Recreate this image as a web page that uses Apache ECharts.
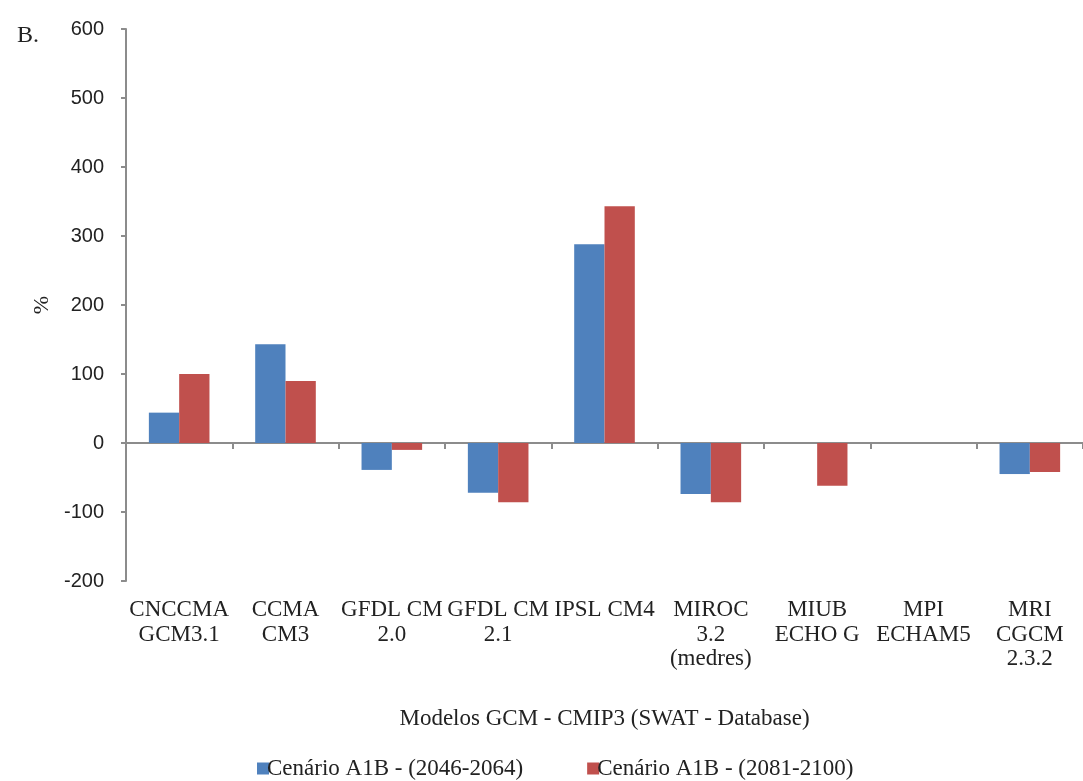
<!DOCTYPE html>
<html>
<head>
<meta charset="utf-8">
<script src="https://cdn.jsdelivr.net/npm/echarts@6/dist/echarts.min.js"></script>
<style>
  html, body { margin: 0; padding: 0; background: #fff; }
  #chart { width: 1083px; height: 781px; }
</style>
</head>
<body>
<div id="chart"></div>
<script>
// GCM models (CMIP3) and the change (%) for the two A1B periods
const models = [
  'CNCCMA\nGCM3.1', 'CCMA\nCM3', 'GFDL CM\n2.0', 'GFDL CM\n2.1', 'IPSL CM4',
  'MIROC\n3.2\n(medres)', 'MIUB\nECHO G', 'MPI\nECHAM5', 'MRI\nCGCM\n2.3.2'
];
const seriesNames = ['Cenário A1B - (2046-2064)', 'Cenário A1B - (2081-2100)'];
const period2046 = [44, 143, -39, -72, 288, -74, 0, 0, -45];
const period2081 = [100, 90, -10, -86, 343, -86, -62, 0, -42];
const yTicks = { min: -200, max: 600, step: 100 };

const serif = '"Liberation Serif", "Times New Roman", serif';
const sans = '"Liberation Sans", Arial, sans-serif';
const axisGray = '#8c8c8c';

const chart = echarts.init(document.getElementById('chart'), null, { renderer: 'canvas' });

chart.setOption({
  backgroundColor: '#ffffff',
  animation: false,
  title: {
    text: 'B.',
    left: 12,
    top: 19,
    textStyle: { fontFamily: serif, fontSize: 24, fontWeight: 'normal', color: '#222' }
  },
  legend: {
    data: seriesNames,
    left: 252,
    top: 752,
    itemWidth: 12,
    itemHeight: 12,
    itemGap: 64,
    icon: 'rect',
    textStyle: { fontFamily: serif, fontSize: 23, color: '#222', padding: [0, 0, 0, -7] }
  },
  grid: { left: 126, top: 29, width: 969, height: 552, containLabel: false },
  xAxis: [
    {
      // category labels and axis title at the bottom of the plot
      type: 'category',
      data: models,
      position: 'bottom',
      axisLine: { show: false, onZero: false },
      axisTick: { show: false },
      axisLabel: {
        interval: 0,
        margin: 17,
        fontFamily: serif,
        fontSize: 23,
        lineHeight: 24.5,
        color: '#222'
      },
      name: 'Modelos GCM - CMIP3 (SWAT - Database)',
      nameLocation: 'middle',
      nameGap: 126,
      nameTextStyle: { fontFamily: serif, fontSize: 23, color: '#222' }
    },
    {
      // baseline at zero with ticks between categories
      type: 'category',
      data: models,
      position: 'bottom',
      axisLine: { show: true, onZero: true, lineStyle: { color: axisGray, width: 2 } },
      axisTick: { show: true, length: 6, lineStyle: { color: axisGray, width: 2 } },
      axisLabel: { show: false }
    }
  ],
  yAxis: {
    type: 'value',
    min: yTicks.min,
    max: yTicks.max,
    interval: yTicks.step,
    axisLine: { show: true, lineStyle: { color: axisGray, width: 2 } },
    axisTick: { show: true, length: 5, lineStyle: { color: axisGray, width: 2 } },
    splitLine: { show: false },
    axisLabel: { margin: 22, fontFamily: sans, fontSize: 20, color: '#222' },
    name: '%',
    nameLocation: 'middle',
    nameGap: 70,
    nameTextStyle: { fontFamily: serif, fontSize: 22, color: '#222' }
  },
  series: [
    {
      name: seriesNames[0],
      type: 'bar',
      xAxisIndex: 0,
      data: period2046,
      barGap: '0%',
      barCategoryGap: '43%',
      itemStyle: { color: '#4F81BD' }
    },
    {
      name: seriesNames[1],
      type: 'bar',
      xAxisIndex: 0,
      data: period2081,
      barGap: '0%',
      barCategoryGap: '43%',
      itemStyle: { color: '#C0504D' }
    }
  ]
});
</script>
</body>
</html>
